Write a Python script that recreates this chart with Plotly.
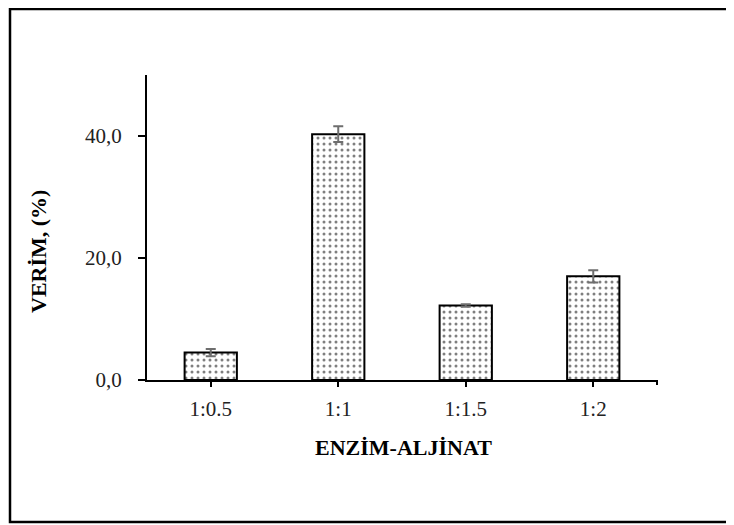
import plotly.graph_objects as go

categories = ["1:0.5", "1:1", "1:1.5", "1:2"]
verim = [4.5, 40.3, 12.2, 17.0]
errors = [0.6, 1.3, 0.2, 1.0]
ytick_vals = [0, 20, 40]
ytick_text = ["0,0", "20,0", "40,0"]
x_title = "ENZİM-ALJİNAT"
y_title = "VERİM, (%)"

OFF = 8  # page body margin
W, H = 734 - OFF, 525 - OFF
L, T = 147 - OFF, 75 - OFF
R = W - (657 - OFF)
B = H - (380 - OFF)
pw, ph = W - L - R, H - T - B

def px_x(x):
    return (x - OFF - L) / pw

def px_y(y):
    return (H - B - (y - OFF)) / ph

SERIF = "Liberation Serif, Times New Roman, DejaVu Serif, serif"

fig = go.Figure()
fig.add_trace(go.Bar(
    x=categories, y=verim,
    width=0.41,
    marker=dict(
        color="white",
        line=dict(color="black", width=2),
        pattern=dict(shape=".", fgcolor="black", bgcolor="white", size=6, solidity=0.2),
    ),
    error_y=dict(type="data", array=errors, visible=True, color="#6e6e6e", thickness=2, width=5),
))

fig.update_layout(
    width=W, height=H,
    margin=dict(l=L, r=R, t=T, b=B),
    paper_bgcolor="white", plot_bgcolor="white",
    showlegend=False,
    font=dict(family=SERIF, size=21, color="#222"),
    xaxis=dict(
        showline=True, linecolor="black", linewidth=2,
        ticks="outside", ticklen=5, tickwidth=2, tickcolor="black",
        showgrid=False, zeroline=False,
        tickfont=dict(family=SERIF, size=21, color="#222"),
        ticklabelstandoff=4,
    ),
    yaxis=dict(
        range=[0, 50],
        showline=True, linecolor="black", linewidth=2,
        ticks="outside", ticklen=7, tickwidth=2, tickcolor="black",
        tickvals=ytick_vals, ticktext=ytick_text,
        showgrid=False, zeroline=False,
        tickfont=dict(family=SERIF, size=21, color="#222"),
        ticklabelstandoff=12,
    ),
    annotations=[
        dict(text="<b>" + x_title + "</b>", xref="paper", yref="paper",
             x=px_x(403), y=px_y(447), showarrow=False,
             xanchor="center", yanchor="middle",
             font=dict(family=SERIF, size=22, color="black")),
        dict(text="<b>" + y_title + "</b>", xref="paper", yref="paper",
             x=px_x(38), y=px_y(252), showarrow=False, textangle=-90,
             xanchor="center", yanchor="middle",
             font=dict(family=SERIF, size=22, color="black")),
    ],
    shapes=[
        dict(type="rect", xref="paper", yref="paper",
             x0=px_x(10), x1=px_x(760), y0=px_y(522), y1=px_y(9),
             line=dict(color="black", width=2.5), fillcolor="rgba(0,0,0,0)", layer="below"),
        dict(type="line", xref="paper", yref="paper",
             x0=1, x1=1, y0=0, y1=px_y(385),
             line=dict(color="black", width=2)),
    ],
)

fig.write_html("out.html")
